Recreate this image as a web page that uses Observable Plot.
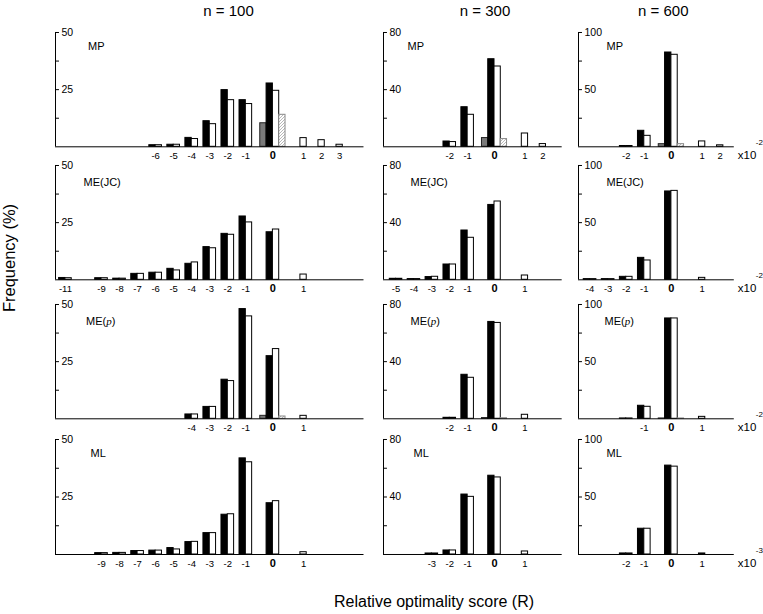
<!DOCTYPE html>
<html><head><meta charset="utf-8">
<script src="https://cdn.jsdelivr.net/npm/d3@7"></script>
<script src="https://cdn.jsdelivr.net/npm/@observablehq/plot@0.6"></script>
<style>
html,body{margin:0;padding:0;background:#fff;}
#chart{position:relative;width:763px;height:614px;overflow:hidden;background:#fff;font-family:"Liberation Sans",Arial,sans-serif;}
#chart svg{position:absolute;}
</style></head><body>
<svg width="0" height="0" style="position:absolute;left:0;top:0">
  <defs>
    <pattern id="hatch" patternUnits="userSpaceOnUse" width="3" height="3">
      <rect width="3" height="3" fill="white"/>
      <path d="M-1,1 l2,-2 M0,3 l3,-3 M2,4 l2,-2" stroke="#9a9a9a" stroke-width="0.7"/>
    </pattern>
  </defs>
</svg>
<div id="chart"></div>
<script>
// ---------- labels / scales ----------
const sampleSizes = ["n = 100", "n = 300", "n = 600"];
const methods = ["MP", "ME(JC)", "ME(p)", "ML"];
const yMax = [50, 80, 100];
const yTicks = [[12.5, 25, 37.5, 50], [20, 40, 60, 80], [25, 50, 75, 100]];
const yTickLabels = [[25, 50], [40, 80], [50, 100]];
const scaleExponents = ["-2", "-2", "-2", "-3"];
const binIds   = [-11, -10, -9, -8, -7, -6, -5, -4, -3, -2, -1, 0, 1, 2, 3];
const binSlots = [-11, -10, -9, -8, -7, -6, -5, -4, -3, -2, -1, 0.5, 2.2, 3.2, 4.2];
const xDomains = [[-11.55, 5.55], [-5.7, 4.28], [-4.64, 3.98]];
const yLabel = "Frequency (%)";
const xLabel = "Relative optimality score (R)";

// ---------- n = 100 ----------
const mp100Bins    = [-6, -5, -4, -3, -2, -1, 0, 1, 2, 3];
const mp100Black   = [0.7, 0.9, 3.9, 11.2, 24.8, 20.4, 27.7, 0, 0, 0];
const mp100White   = [0.7, 0.9, 3.4, 9.9, 20.4, 18.7, 24.5, 3.8, 2.9, 0.9];
const mp100Gray = 10.3, mp100Hatched = 14.0;
const mp100Labels  = [-6, -5, -4, -3, -2, -1, 0, 1, 2, 3];

const jc100Bins    = [-11, -9, -8, -7, -6, -5, -4, -3, -2, -1, 0, 1];
const jc100Black   = [0.8, 0.7, 0.5, 2.6, 3.1, 4.8, 7.0, 14.3, 20.1, 27.7, 20.8, 0];
const jc100White   = [0.7, 0.7, 0.5, 2.6, 3.1, 4.1, 7.6, 13.8, 19.7, 25.1, 22.0, 2.3];
const jc100Labels  = [-11, -9, -8, -7, -6, -5, -4, -3, -2, -1, 0, 1];

const mep100Bins   = [-4, -3, -2, -1, 0, 1];
const mep100Black  = [1.9, 5.2, 17.1, 48.0, 27.4, 0];
const mep100White  = [1.9, 5.2, 16.5, 44.8, 30.5, 1.3];
const mep100Gray = 1.3, mep100Hatched = 1.0;
const mep100Labels = [-4, -3, -2, -1, 0, 1];

const ml100Bins    = [-9, -8, -7, -6, -5, -4, -3, -2, -1, 0, 1];
const ml100Black   = [0.6, 0.7, 1.5, 1.7, 2.8, 5.4, 9.3, 17.3, 41.8, 22.3, 0];
const ml100White   = [0.6, 0.7, 1.5, 1.7, 2.2, 5.5, 9.3, 17.5, 40.1, 23.2, 1.0];
const ml100Labels  = [-9, -8, -7, -6, -5, -4, -3, -2, -1, 0, 1];

// ---------- n = 300 ----------
const mp300Bins    = [-2, -1, 0, 1, 2];
const mp300Black   = [3.7, 27.7, 61.3, 0, 0];
const mp300White   = [3.3, 22.4, 56.2, 9.3, 1.9];
const mp300Gray = 6.1, mp300Hatched = 5.4;
const mp300Labels  = [-2, -1, 0, 1, 2];

const jc300Bins    = [-5, -4, -3, -2, -1, 0, 1];
const jc300Black   = [0.7, 0.5, 1.9, 10.7, 34.5, 52.4, 0];
const jc300White   = [0.7, 0.5, 2.1, 10.7, 29.4, 54.8, 3.0];
const jc300Labels  = [-5, -4, -3, -2, -1, 0, 1];

const mep300Bins   = [-2, -1, 0, 1];
const mep300Black  = [0.7, 30.8, 67.8, 0];
const mep300White  = [0.7, 28.7, 67.1, 2.8];
const mep300Gray = 0.5, mep300Hatched = 0.4;
const mep300Labels = [-2, -1, 0, 1];

const ml300Bins    = [-3, -2, -1, 0, 1];
const ml300Black   = [0.7, 2.8, 41.7, 54.8, 0];
const ml300White   = [0.7, 2.8, 40.1, 53.6, 2.1];
const ml300Labels  = [-3, -2, -1, 0, 1];

// ---------- n = 600 ----------
const mp600Bins    = [-2, -1, 0, 1, 2];
const mp600Black   = [0.7, 14.0, 82.5, 0, 0];
const mp600White   = [0.7, 9.6, 80.5, 4.7, 1.3];
const mp600Gray = 2.3, mp600Hatched = 2.3;
const mp600Labels  = [-2, -1, 0, 1, 2];

const jc600Bins    = [-4, -3, -2, -1, 0, 1];
const jc600Black   = [0.6, 0.6, 2.6, 19.2, 77.3, 0];
const jc600White   = [0.6, 0.6, 2.6, 16.9, 77.8, 1.7];
const jc600Labels  = [-4, -3, -2, -1, 0, 1];

const mep600Bins   = [-2, -1, 0, 1];
const mep600Black  = [0.3, 11.4, 87.8, 0];
const mep600White  = [0.3, 10.5, 87.8, 1.7];
const mep600Gray = 0.3, mep600Hatched = 0.3;
const mep600Labels = [-1, 0, 1];

const ml600Bins    = [-2, -1, 0, 1];
const ml600Black   = [0.9, 22.4, 77.3, 0];
const ml600White   = [0.9, 22.4, 76.4, 0.9];
const ml600Labels  = [-2, -1, 0, 1];

// panels[row][col]
const panels = [
  [
    {bins: mp100Bins, black: mp100Black, white: mp100White, gray: mp100Gray, hatched: mp100Hatched, labels: mp100Labels},
    {bins: mp300Bins, black: mp300Black, white: mp300White, gray: mp300Gray, hatched: mp300Hatched, labels: mp300Labels},
    {bins: mp600Bins, black: mp600Black, white: mp600White, gray: mp600Gray, hatched: mp600Hatched, labels: mp600Labels}
  ],
  [
    {bins: jc100Bins, black: jc100Black, white: jc100White, labels: jc100Labels},
    {bins: jc300Bins, black: jc300Black, white: jc300White, labels: jc300Labels},
    {bins: jc600Bins, black: jc600Black, white: jc600White, labels: jc600Labels}
  ],
  [
    {bins: mep100Bins, black: mep100Black, white: mep100White, gray: mep100Gray, hatched: mep100Hatched, labels: mep100Labels},
    {bins: mep300Bins, black: mep300Black, white: mep300White, gray: mep300Gray, hatched: mep300Hatched, labels: mep300Labels},
    {bins: mep600Bins, black: mep600Black, white: mep600White, gray: mep600Gray, hatched: mep600Hatched, labels: mep600Labels}
  ],
  [
    {bins: ml100Bins, black: ml100Black, white: ml100White, labels: ml100Labels},
    {bins: ml300Bins, black: ml300Black, white: ml300White, labels: ml300Labels},
    {bins: ml600Bins, black: ml600Black, white: ml600White, labels: ml600Labels}
  ]
];

// ---------- layout ----------
const colAxis = [[54.5, 363], [383, 561.7], [577.5, 733.3]];
const rowAxis = [[31.7, 146], [165, 279.3], [304, 418.3], [439, 554]];
const labelDx = [[32.5, 28, 30.5, 35], [24, 27, 27, 30], [28, 28, 26, 28]];
const labelDy = [14, 16.5, 16.5, 14];
const BW = 0.35;      // bar width in slot units
const TICK = 0.22;    // y tick length in slot units
const FONT = "'Liberation Sans', Arial, sans-serif";

const slotOf = b => binSlots[binIds.indexOf(b)];

function barRows(p) {
  const rows = [];
  p.bins.forEach((b, i) => {
    const s = slotOf(b);
    if (b > 0) {
      rows.push({kind: "white", x1: s - BW / 2, x2: s + BW / 2, v: p.white[i]});
    } else {
      rows.push({kind: "black", x1: s - BW, x2: s, v: p.black[i]});
      rows.push({kind: "white", x1: s, x2: s + BW, v: p.white[i]});
      if (b === 0 && p.gray != null) {
        rows.push({kind: "gray", x1: s - 2 * BW, x2: s - BW, v: p.gray});
        rows.push({kind: "hatched", x1: s + BW, x2: s + 2 * BW, v: p.hatched});
      }
    }
  });
  return rows;
}

const chart = document.getElementById("chart");
const mL = 14, mR = 42, mT = 8, mB = 22;

for (let r = 0; r < 4; r++) {
  for (let c = 0; c < 3; c++) {
    const p = panels[r][c];
    const [axL, axR] = colAxis[c];
    const [top, base] = rowAxis[r];
    const dom = xDomains[c];
    const rows = barRows(p);
    const style = {fill: {black: "black", white: "white", gray: "#7a7a7a", hatched: "url(#hatch)"},
                   stroke: {black: "black", white: "black", gray: "#222", hatched: "#8a8a8a"}};
    const barMarks = ["gray", "black", "white", "hatched"].map(k =>
      Plot.rect(rows.filter(d => d.kind === k), {
        x1: "x1", x2: "x2", y1: 0, y2: "v",
        fill: style.fill[k], stroke: style.stroke[k], strokeWidth: 1
      })
    );
    const marks = [
      ...barMarks,
      Plot.ruleY([0], {stroke: "black", strokeWidth: 1}),
      Plot.ruleX([dom[0]], {y1: 0, y2: yMax[c], stroke: "black", strokeWidth: 1}),
      Plot.ruleY(yTicks[c], {y: d => d, x1: dom[0], x2: dom[0] + TICK, stroke: "black", strokeWidth: 1}),
      Plot.text(yTickLabels[c], {x: dom[0], y: d => d, text: d => String(d), textAnchor: "start", lineAnchor: "middle", dx: 6, fontSize: 10.5, fill: "black"}),
      Plot.text(p.labels.filter(d => d !== 0), {x: d => slotOf(d), y: 0, text: d => String(d), dy: 9.5, lineAnchor: "middle", fontSize: 9.5, fill: "black"}),
      Plot.text(p.labels.filter(d => d === 0), {x: d => slotOf(d), y: 0, text: d => String(d), dy: 9, lineAnchor: "middle", fontSize: 11, fontWeight: "bold", fill: "black"}),
      Plot.text([methods[r]], {frameAnchor: "top-left", text: d => d, dx: labelDx[c][r], dy: labelDy[r], textAnchor: "start", lineAnchor: "middle", fontSize: 11, fill: "black"})
    ];
    if (c === 2) {
      marks.push(
        Plot.text(["x10"], {x: dom[1], y: 0, text: d => d, dx: 3.5, dy: 8.5, textAnchor: "start", lineAnchor: "middle", fontSize: 11.5, fill: "black"}),
        Plot.text([scaleExponents[r]], {x: dom[1], y: 0, text: d => d, dx: 21.5, dy: -4.3, textAnchor: "start", lineAnchor: "middle", fontSize: 8, fill: "black"})
      );
    }
    const svg = Plot.plot({
      width: axR - axL + mL + mR,
      height: base - top + mT + mB,
      marginLeft: mL, marginRight: mR, marginTop: mT, marginBottom: mB,
      x: {type: "linear", domain: dom, axis: null},
      y: {type: "linear", domain: [0, yMax[c]], axis: null},
      style: {background: "transparent", fontFamily: FONT, fontSize: "10px", overflow: "visible", color: "black"},
      marks
    });
    svg.style.left = (axL - mL) + "px";
    svg.style.top = (top - mT) + "px";
    svg.style.position = "absolute";
    svg.querySelectorAll("text").forEach(t => {
      if (t.textContent === "ME(p)") {
        t.innerHTML = 'ME(<tspan style="font-family:\'Liberation Serif\',serif;font-style:italic">p</tspan>)';
      }
    });
    chart.appendChild(svg);
  }
}

// ---------- titles and axis labels ----------
const overlay = d3.select(chart).append("svg")
  .attr("width", 763).attr("height", 614)
  .style("left", "0px").style("top", "0px").style("position", "absolute")
  .style("pointer-events", "none")
  .attr("font-family", FONT);
const titleX = [228.5, 485, 663.3];
sampleSizes.forEach((s, i) => {
  overlay.append("text").attr("x", titleX[i]).attr("y", 15.5)
    .attr("text-anchor", "middle").attr("font-size", 15).text(s);
});
overlay.append("text")
  .attr("transform", "translate(15,258) rotate(-90)")
  .attr("text-anchor", "middle").attr("font-size", 16.5).text(yLabel);
overlay.append("text").attr("x", 434).attr("y", 607)
  .attr("text-anchor", "middle").attr("font-size", 16).text(xLabel);
</script></body></html>
